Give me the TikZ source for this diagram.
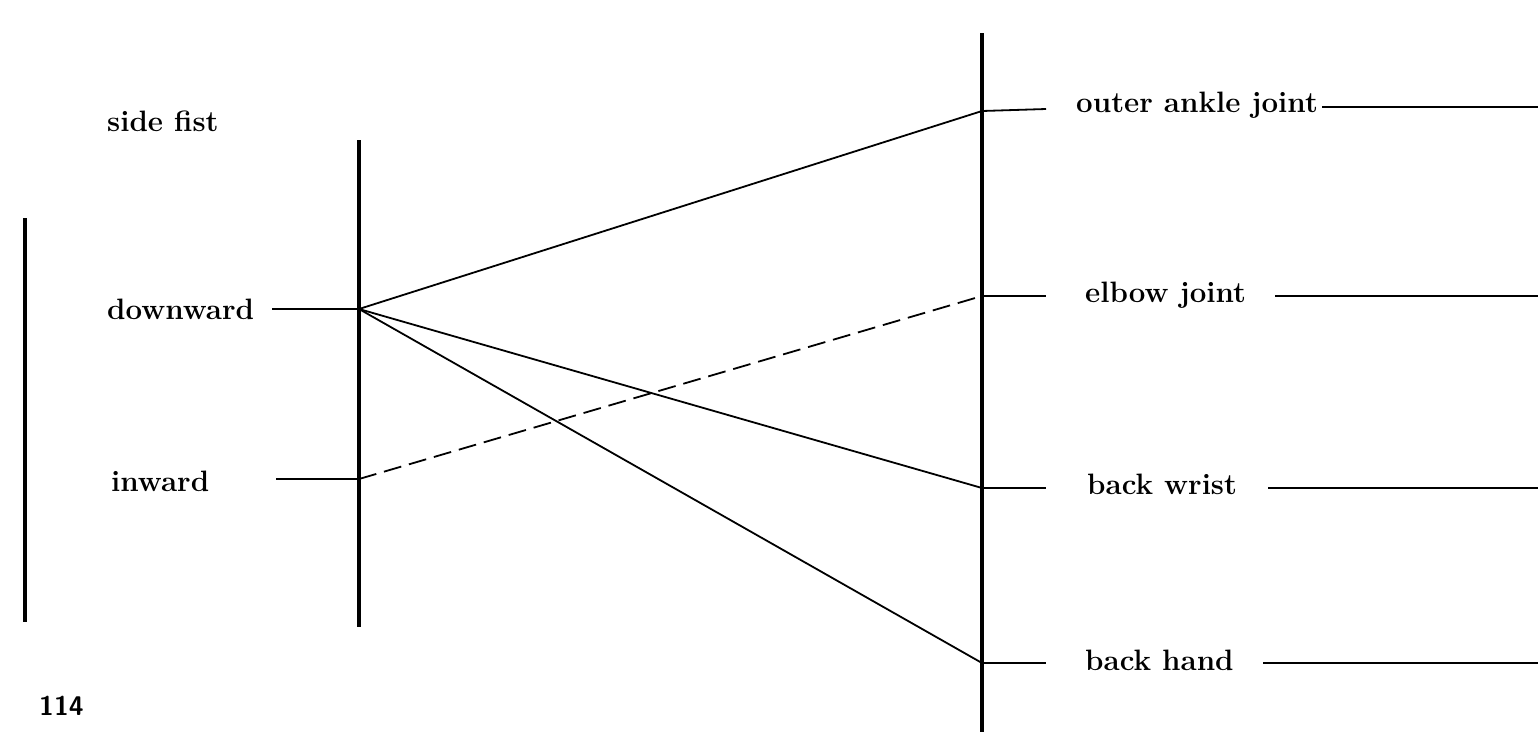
\documentclass[tikz,border=0pt]{standalone}
\begin{document}
\begin{tikzpicture}[x=1pt,y=-1pt,
  lbl/.style={anchor=west,inner sep=0pt,font=\fontsize{29.5}{35}\selectfont\bfseries},
  bar/.style={line width=3.2pt},
  thin/.style={line width=1.8pt},
  dsh/.style={line width=1.8pt,dash pattern=on 18pt off 8pt}]
\useasboundingbox[fill=white] (0,0) rectangle (1538,732);
% bars
\coordinate (b1t) at (25,218); \coordinate (b1b) at (25,622);
\coordinate (b2t) at (359,140); \coordinate (b2b) at (359,627);
\coordinate (b3t) at (982,33); \coordinate (b3b) at (982,732);
\draw[bar] (b1t) -- (b1b);
\draw[bar] (b2t) -- (b2b);
\draw[bar] (b3t) -- (b3b);
% left labels
\node[lbl] (sf) at (107,121) {side fist};
\node[lbl] (dw) at (107,309) {downward};
\node[lbl] (iw) at (111,481) {inward};
\coordinate (dwL) at (272,309); \coordinate (dwJ) at (359,309);
\coordinate (iwL) at (276,479); \coordinate (iwJ) at (359,479);
\draw[thin] (dwL) -- (dwJ);
\draw[thin] (iwL) -- (iwJ);
% right junctions
\coordinate (oaJ) at (982,111); \coordinate (oaT) at (1046,109);
\coordinate (ejJ) at (982,296); \coordinate (ejT) at (1046,296);
\coordinate (bwJ) at (982,488); \coordinate (bwT) at (1046,488);
\coordinate (bhJ) at (982,663); \coordinate (bhT) at (1046,663);
\draw[thin] (oaJ) -- (oaT);
\draw[thin] (ejJ) -- (ejT);
\draw[thin] (bwJ) -- (bwT);
\draw[thin] (bhJ) -- (bhT);
% right labels
\node[lbl] (oa) at (1076,105) {outer ankle joint};
\node[lbl] (ej) at (1085,295) {elbow joint};
\node[lbl] (bw) at (1087,484) {back wrist};
\node[lbl] (bh) at (1085,660) {back hand};
\coordinate (oaS) at (1322,107); \coordinate (oaE) at (1538,107);
\coordinate (ejS) at (1275,296); \coordinate (ejE) at (1538,296);
\coordinate (bwS) at (1268,488); \coordinate (bwE) at (1538,488);
\coordinate (bhS) at (1263,663); \coordinate (bhE) at (1538,663);
\draw[thin] (oaS) -- (oaE);
\draw[thin] (ejS) -- (ejE);
\draw[thin] (bwS) -- (bwE);
\draw[thin] (bhS) -- (bhE);
% connectors
\draw[thin] (dwJ) -- (oaJ);
\draw[thin] (dwJ) -- (bwJ);
\draw[thin] (dwJ) -- (bhJ);
\draw[dsh] (iwJ) -- (ejJ);
% page number
\node[anchor=west,inner sep=0pt,font=\fontsize{27}{32}\selectfont\sffamily\bfseries] (pg) at (39,706) {114};
\end{tikzpicture}
\end{document}
